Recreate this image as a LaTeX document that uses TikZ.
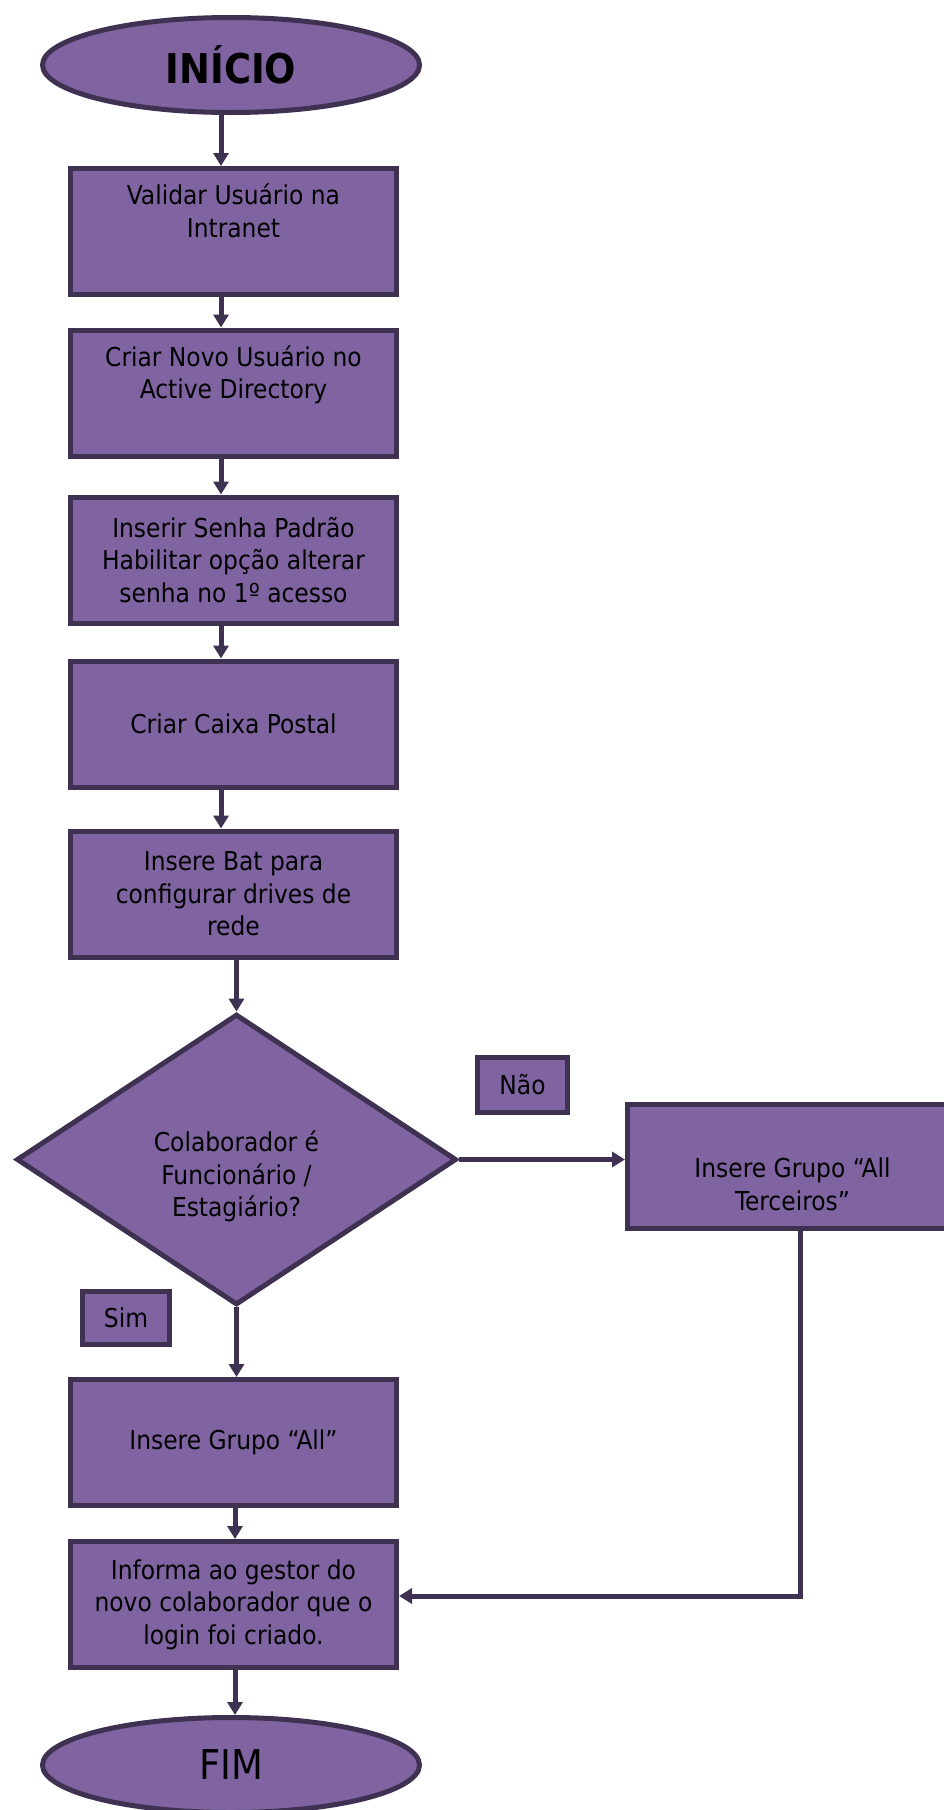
\documentclass[tikz,border=0pt]{standalone}
\usepackage{fontspec}
\setmainfont{DejaVu Sans Condensed}
\usetikzlibrary{shapes.geometric,arrows.meta}
\definecolor{pfill}{RGB}{128,100,162}
\definecolor{pline}{RGB}{63,49,81}
\tikzset{
  base/.style={draw=pline, fill=pfill, line width=5pt, inner sep=0pt, align=center,
    font=\fontsize{26}{32.5}\selectfont},
  proc/.style={base, rectangle, minimum width=326pt, minimum height=126pt},
  term/.style={base, ellipse, minimum width=377pt, minimum height=95pt},
  decis/.style={base, diamond, minimum width=440pt, minimum height=284pt},
  tag/.style={base, rectangle},
  arr/.style={draw=pline, line width=5pt, -{Triangle[width=15pt,length=13pt]}}
}
\begin{document}
\begin{tikzpicture}[x=1pt,y=-1pt]
\useasboundingbox (0,0) rectangle (944,1810);
\clip (0,0) rectangle (944,1810);
\coordinate (xa) at (221,0);
\coordinate (xb) at (235,0);
\coordinate (xr) at (800,0);
\coordinate (yr) at (0,1596);

\node[term, font=\fontsize{41}{48}\selectfont\bfseries] (inicio) at (231,65) {INÍCIO};
\node[proc] (b1) at (233.5,231.5) {Validar Usuário na\\Intranet\\\strut};
\node[proc] (b2) at (233.5,393) {Criar Novo Usuário no\\Active Directory\\\strut};
\node[proc] (b3) at (233.5,560) {Inserir Senha Padrão\\Habilitar opção alterar\\senha no 1º acesso};
\node[proc] (b4) at (233.5,724) {Criar Caixa Postal};
\node[proc] (b5) at (233.5,894) {Insere Bat para\\configurar drives de\\rede};
\node[decis] (d) at (236.5,1159.5) {\strut\\Colaborador é\\Funcionário /\\Estagiário?};
\node[tag, minimum width=90pt, minimum height=55pt] (nao) at (522.5,1085) {Não};
\node[proc, minimum width=330pt, minimum height=124pt] (t) at (792.5,1166.5) {\strut\\Insere Grupo “All\\Terceiros”};
\node[tag, minimum width=87pt, minimum height=53pt] (sim) at (126,1318) {Sim};
\node[proc] (b6) at (233.5,1442.5) {Insere Grupo “All”};
\node[proc] (b7) at (233.5,1604.5) {Informa ao gestor do\\novo colaborador que o\\login foi criado.};
\node[term, font=\fontsize{41}{48}\selectfont] (fim) at (231,1765) {FIM};

\draw[arr] (inicio.south -| xa) -- (b1.north -| xa);
\draw[arr] (b1.south -| xa) -- (b2.north -| xa);
\draw[arr] (b2.south -| xa) -- (b3.north -| xa);
\draw[arr] (b3.south -| xa) -- (b4.north -| xa);
\draw[arr] (b4.south -| xa) -- (b5.north -| xa);
\draw[arr] (b5.south -| d.north) -- (d.north);
\draw[arr] (d.east) -- (t.west |- d.east);
\draw[arr] (d.south) -- (b6.north -| d.south);
\draw[arr] (b6.south -| xb) -- (b7.north -| xb);
\draw[arr] (b7.south -| xb) -- (fim.north -| xb);
\draw[arr] (t.south -| xr) -- (xr |- yr) -- (b7.east |- yr);
\end{tikzpicture}
\end{document}
